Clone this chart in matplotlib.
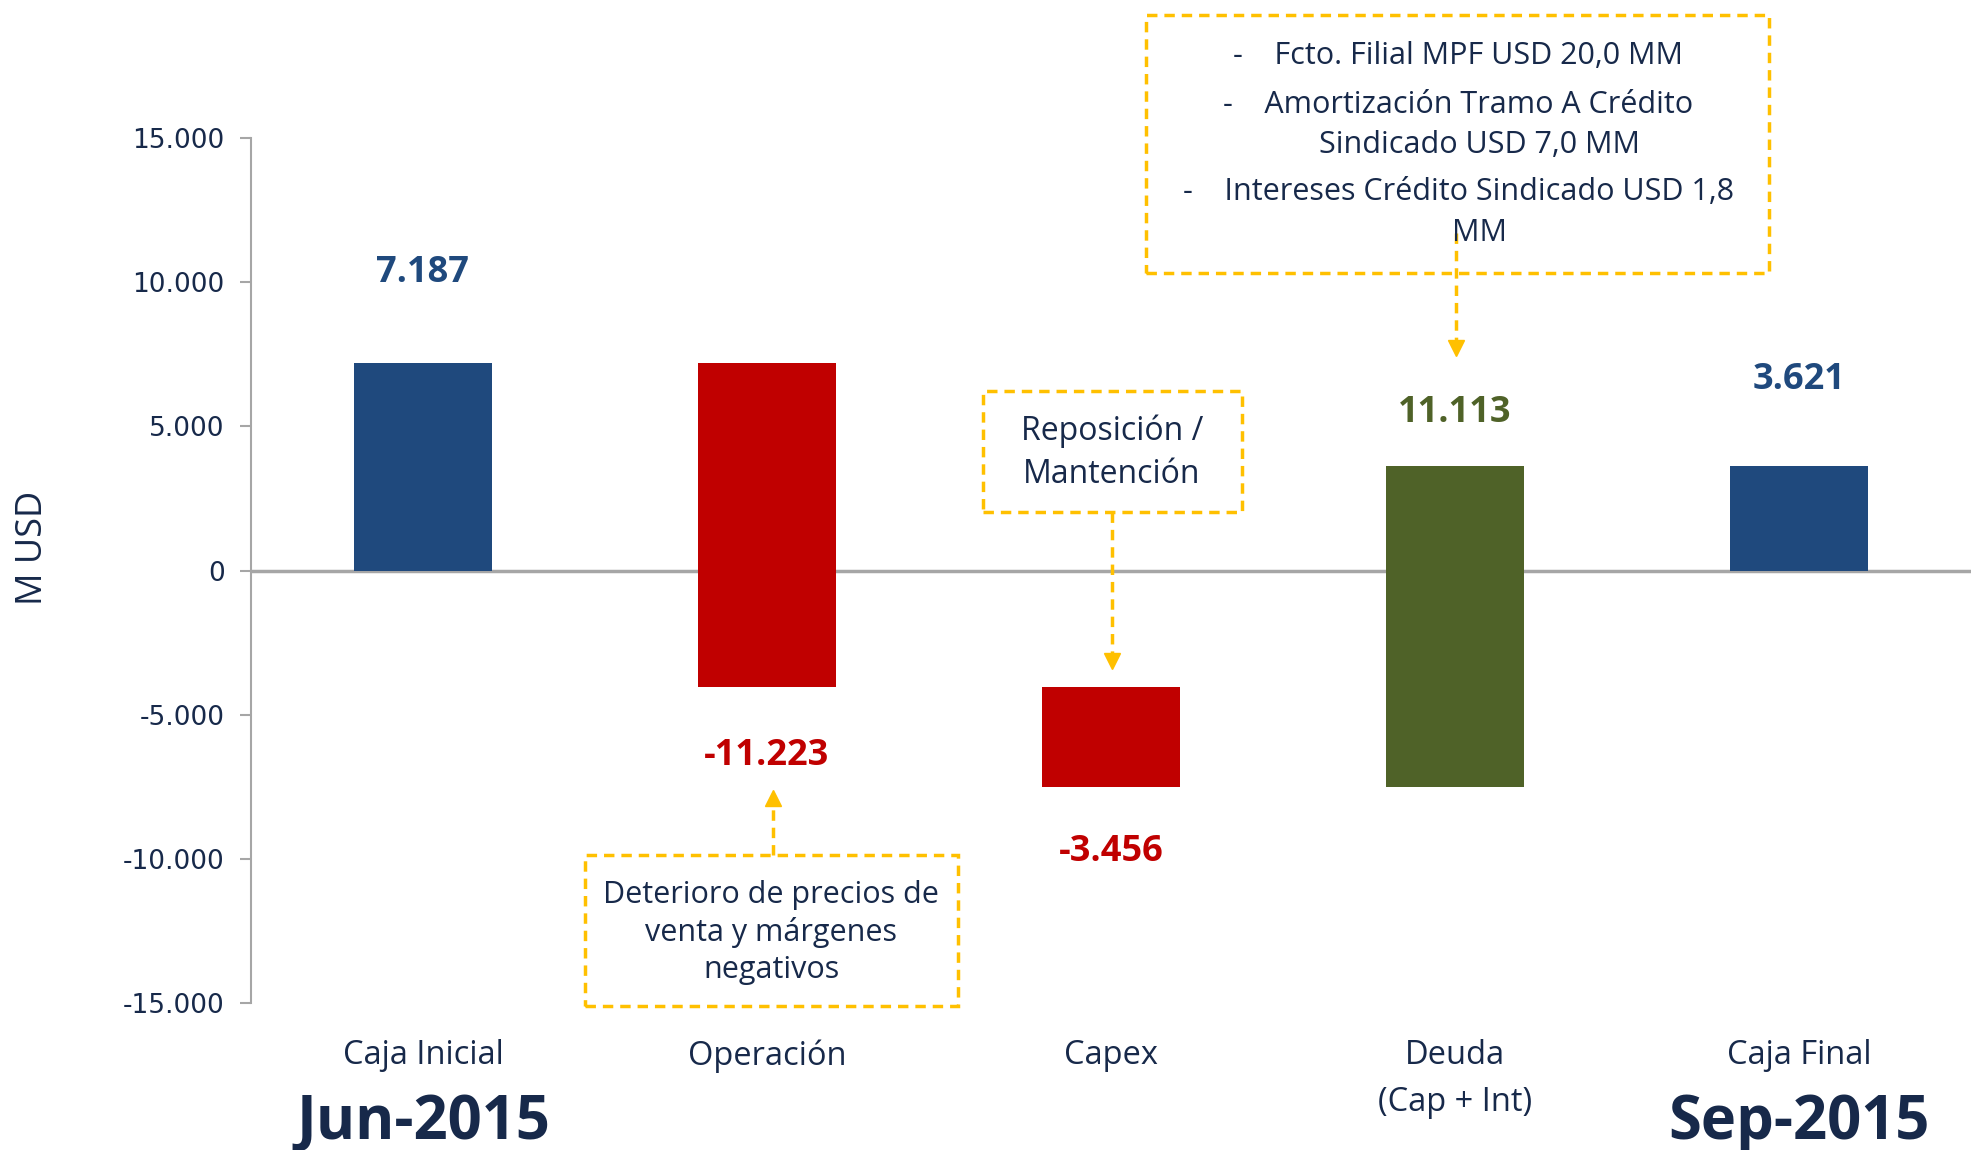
import matplotlib
matplotlib.use("Agg")
import matplotlib.pyplot as plt
import matplotlib.transforms as mtransforms
from matplotlib.ticker import FuncFormatter
from matplotlib.patches import Rectangle

# data
categories = ["Caja Inicial", "Operación", "Capex", "Deuda\n(Cap + Int)", "Caja Final"]
values = [7187, -11223, -3456, 11113, 3621]
is_total = [True, False, False, False, True]
bar_colors = ["#1F497D", "#C00000", "#C00000", "#4F6228", "#1F497D"]
value_labels = ["7.187", "-11.223", "-3.456", "11.113", "3.621"]
label_offsets = [65, -50, -47, 38, 62]   # points from bar end
period_labels = ["Jun-2015", "Sep-2015"]
yticks = [-15000, -10000, -5000, 0, 5000, 10000, 15000]

navy_text = "#17294A"
yellow = "#FFC000"
plt.rcParams["font.family"] = ["Open Sans", "DejaVu Sans"]

fig = plt.figure(figsize=(19.71, 11.5), dpi=100)
ax = fig.add_axes([0.1273, 0.1278, 0.8727, 0.7522])

# waterfall bars
running = 0
for i, v in enumerate(values):
    if is_total[i]:
        bottom, height = 0, v
        running = v
    else:
        bottom, height = running, v
        running += v
    ax.bar(i, height, bottom=bottom, width=0.4, color=bar_colors[i], zorder=2)
    end = bottom + height
    ax.annotate(value_labels[i], (i, end), xytext=(0, label_offsets[i]),
                textcoords="offset points", ha="center", va="center",
                fontsize=26, fontweight="bold", color=bar_colors[i])

ax.axhline(0, color="#A6A6A6", lw=2.5, zorder=1)
ax.set_xlim(-0.5, 4.5)
ax.set_ylim(-15000, 15000)
ax.set_yticks(yticks)
ax.yaxis.set_major_formatter(FuncFormatter(lambda y, p: f"{y:,.0f}".replace(",", ".")))
for lbl in ax.get_yticklabels():
    lbl.set_family("DejaVu Sans")
ax.tick_params(axis="y", labelsize=19, colors="#A6A6A6", labelcolor=navy_text,
               length=8, width=1.5, pad=11)
ax.set_xticks(range(len(categories)))
ax.set_xticklabels(categories)
ax.tick_params(axis="x", length=0, labelsize=23.5, labelcolor=navy_text, pad=26)
for lbl in ax.get_xticklabels():
    lbl.set_linespacing(1.55)
for s in ["top", "right", "bottom"]:
    ax.spines[s].set_visible(False)
ax.spines["left"].set_color("#A6A6A6")
ax.spines["left"].set_linewidth(1.5)

fig.text(33 / 1971, 0.5235, "M USD", rotation=90, ha="center", va="center",
         fontsize=26, color=navy_text)

trans = mtransforms.blended_transform_factory(ax.transData, ax.transAxes)
ax.text(0, -0.139, period_labels[0], transform=trans, ha="center", va="center",
        fontsize=43, fontweight="bold", color=navy_text)
ax.text(4, -0.139, period_labels[1], transform=trans, ha="center", va="center",
        fontsize=43, fontweight="bold", color=navy_text)


def dashed_box(x0, y0, x1, y1):
    r = Rectangle((x0, y0), x1 - x0, y1 - y0, fill=False, edgecolor=yellow,
                  lw=2.5, ls=(0, (3, 2)), clip_on=False, zorder=3)
    ax.add_patch(r)


def dashed_arrow(x, y0, y1):
    ax.plot([x, x], [y0, y1], color=yellow, lw=2.5, ls=(0, (3, 2)),
            clip_on=False, zorder=3)
    m = "v" if y1 < y0 else "^"
    ax.plot([x], [y1], marker=m, color=yellow, ms=11, clip_on=False, zorder=3)


# top annotation (Deuda)
dashed_box(2.102, 10335, 3.913, 19282)
dashed_arrow(3.003, 11722, 7700)
box_lines = [("-    Fcto. Filial MPF USD 20,0 MM", 3.009, 17860),
             ("-    Amortización Tramo A Crédito", 3.009, 16160),
             ("Sindicado USD 7,0 MM", 3.072, 14770),
             ("-    Intereses Crédito Sindicado USD 1,8", 3.009, 13110),
             ("MM", 3.072, 11690)]
for t, x, y in box_lines:
    ax.text(x, y, t, ha="center", va="center", fontsize=22, color=navy_text,
            clip_on=False, zorder=4)

# Capex annotation
dashed_box(1.628, 2046, 2.381, 6242)
dashed_arrow(2.003, 2046, -3150)
ax.text(2.003, 4100, "Reposición /\nMantención", ha="center", va="center",
        fontsize=23, color=navy_text, linespacing=1.4)

# Operacion annotation
dashed_box(0.471, -15120, 1.555, -9849)
dashed_arrow(1.017, -9849, -7900)
ax.text(1.013, -12560, "Deterioro de precios de\nventa y márgenes\nnegativos",
        ha="center", va="center", fontsize=22, color=navy_text, linespacing=1.3,
        clip_on=False)

fig.savefig("out.png", dpi=100)
